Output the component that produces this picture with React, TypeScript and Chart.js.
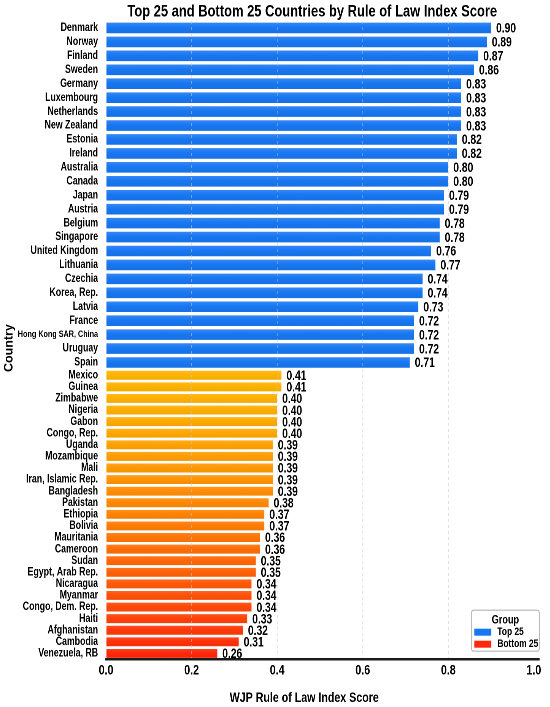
import React, { useEffect, useRef } from 'react';
import { Chart, registerables } from 'chart.js';

Chart.register(...registerables);

// Top 25 countries (highest score first)
const topCountries = [
  'Denmark', 'Norway', 'Finland', 'Sweden', 'Germany', 'Luxembourg', 'Netherlands',
  'New Zealand', 'Estonia', 'Ireland', 'Australia', 'Canada', 'Japan', 'Austria',
  'Belgium', 'Singapore', 'United Kingdom', 'Lithuania', 'Czechia', 'Korea, Rep.',
  'Latvia', 'France', 'Hong Kong SAR, China', 'Uruguay', 'Spain',
];
const topScores = [
  0.90, 0.89, 0.87, 0.86, 0.83, 0.83, 0.83, 0.83, 0.82, 0.82, 0.80, 0.80, 0.79,
  0.79, 0.78, 0.78, 0.76, 0.77, 0.74, 0.74, 0.73, 0.72, 0.72, 0.72, 0.71,
];

// Bottom 25 countries
const bottomCountries = [
  'Mexico', 'Guinea', 'Zimbabwe', 'Nigeria', 'Gabon', 'Congo, Rep.', 'Uganda',
  'Mozambique', 'Mali', 'Iran, Islamic Rep.', 'Bangladesh', 'Pakistan', 'Ethiopia',
  'Bolivia', 'Mauritania', 'Cameroon', 'Sudan', 'Egypt, Arab Rep.', 'Nicaragua',
  'Myanmar', 'Congo, Dem. Rep.', 'Haiti', 'Afghanistan', 'Cambodia', 'Venezuela, RB',
];
const bottomScores = [
  0.41, 0.41, 0.40, 0.40, 0.40, 0.40, 0.39, 0.39, 0.39, 0.39, 0.39, 0.38, 0.37,
  0.37, 0.36, 0.36, 0.35, 0.35, 0.34, 0.34, 0.34, 0.33, 0.32, 0.31, 0.26,
];

const xTickValues = [0, 0.2, 0.4, 0.6, 0.8, 1.0];

const TITLE = 'Top 25 and Bottom 25 Countries by Rule of Law Index Score';
const X_TITLE = 'WJP Rule of Law Index Score';
const Y_TITLE = 'Country';

const FONT = '"Liberation Sans", Arial, Helvetica, sans-serif';
const BLUE = [24, 119, 242];

// the figure is drawn wide and squeezed horizontally (narrow-looking text)
const SQUEEZE = 0.76;
const W = 550;
const H = 707;
const hx = (v: number) => v / SQUEEZE;

const mix = (c: number[], t: number[], a: number) =>
  `rgb(${c.map((v, i) => Math.round(v + (t[i] - v) * a)).join(',')})`;

// yellow-orange to red ramp for the bottom group
const warmColor = (i: number, n: number) => {
  const t = i / (n - 1);
  return [255, Math.round(180 - 140 * Math.pow(t, 1.5)), Math.round(10 * t)];
};

const barFill = (axisId: string, colorAt: (i: number) => number[]) => (c: any) => {
  const base = colorAt(c.dataIndex ?? 0);
  const scale = c.chart.scales[axisId];
  if (c.type !== 'data' || !scale) return mix(base, base, 0);
  const yc = scale.getPixelForValue(c.dataIndex);
  if (!Number.isFinite(yc)) return mix(base, base, 0);
  const g = c.chart.ctx.createLinearGradient(0, yc - 6, 0, yc + 6);
  g.addColorStop(0, mix(base, [255, 255, 255], 0.15));
  g.addColorStop(0.45, mix(base, base, 0));
  g.addColorStop(1, mix(base, [0, 0, 0], 0.06));
  return g;
};

const valueLabels = {
  id: 'valueLabels',
  afterDraw(chart: any) {
    const { ctx } = chart;
    ctx.save();
    ctx.font = `bold 13.5px ${FONT}`;
    ctx.fillStyle = '#000';
    ctx.textBaseline = 'middle';
    chart.data.datasets.forEach((ds: any, i: number) => {
      chart.getDatasetMeta(i).data.forEach((bar: any, j: number) => {
        ctx.fillText(Number(ds.data[j]).toFixed(2), bar.x + hx(5), bar.y + 1);
      });
    });
    ctx.restore();
  },
};

const extras = {
  id: 'extras',
  afterDraw(chart: any) {
    const { ctx, chartArea } = chart;
    const { right, bottom, top } = chartArea;

    ctx.save();
    ctx.fillStyle = '#000';
    ctx.textAlign = 'center';
    ctx.textBaseline = 'middle';

    // chart title and x axis title
    ctx.font = `bold 17px ${FONT}`;
    ctx.fillText(TITLE, hx(312), 12);
    ctx.font = `bold 14px ${FONT}`;
    ctx.fillText(X_TITLE, hx(304), 698);

    // y axis title (not squeezed, it is rotated)
    ctx.translate(hx(9), (top + bottom) / 2 + 8);
    ctx.scale(1 / SQUEEZE, 1);
    ctx.rotate(-Math.PI / 2);
    ctx.font = `bold 12.5px ${FONT}`;
    ctx.fillText(Y_TITLE, 0, 0);
    ctx.restore();

    // legend box
    ctx.save();
    const w = hx(68), h = 41;
    const x = right - w, y = bottom - 8 - h;
    ctx.beginPath();
    ctx.roundRect(x, y, w, h, 3);
    ctx.fillStyle = 'rgba(255,255,255,0.9)';
    ctx.fill();
    ctx.strokeStyle = '#b5b5b5';
    ctx.lineWidth = 1.2;
    ctx.stroke();

    ctx.fillStyle = '#000';
    ctx.textAlign = 'center';
    ctx.textBaseline = 'middle';
    ctx.font = `bold 12px ${FONT}`;
    ctx.fillText('Group', x + w / 2, y + 10);

    const items = [
      { label: 'Top 25', color: mix(BLUE, BLUE, 0) },
      { label: 'Bottom 25', color: 'rgb(255,40,10)' },
    ];
    ctx.textAlign = 'left';
    ctx.font = `bold 11px ${FONT}`;
    items.forEach((it, k) => {
      const yy = y + 22 + k * 12;
      ctx.fillStyle = it.color;
      ctx.fillRect(x + hx(3), yy - 3.5, hx(17), 7);
      ctx.fillStyle = '#000';
      ctx.fillText(it.label, x + hx(26), yy);
    });
    ctx.restore();
  },
};

const App: React.FC = () => {
  const canvasRef = useRef<HTMLCanvasElement | null>(null);

  useEffect(() => {
    if (!canvasRef.current) return;

    const rowAxis = (labels: string[], weight: number, stackWeight: number) => ({
      type: 'category' as const,
      labels,
      position: 'left' as const,
      stack: 'rows',
      stackWeight,
      weight,
      offset: true,
      grid: { display: false, drawTicks: false },
      border: { display: false },
      ticks: {
        autoSkip: false,
        padding: hx(8),
        color: '#000',
        font: (c: any) => ({
          family: FONT,
          size: c.tick && c.tick.label.length > 18 ? 9.5 : 11.5,
          weight: 'bold',
        }),
      },
      afterFit: (s: any) => {
        s.width = hx(106);
      },
    });

    const chart = new Chart(canvasRef.current, {
      type: 'bar',
      data: {
        datasets: [
          {
            label: 'Top 25',
            data: topScores,
            yAxisID: 'yTop',
            xAxisID: 'x',
            grouped: false,
            backgroundColor: barFill('yTop', () => BLUE),
            categoryPercentage: 1,
            barPercentage: 0.76,
          },
          {
            label: 'Bottom 25',
            data: bottomScores,
            yAxisID: 'yBot',
            xAxisID: 'x',
            grouped: false,
            backgroundColor: barFill('yBot', (i) => warmColor(i, bottomScores.length)),
            categoryPercentage: 1,
            barPercentage: 0.77,
          },
        ],
      },
      options: {
        indexAxis: 'y',
        animation: false,
        responsive: true,
        maintainAspectRatio: false,
        devicePixelRatio: 2,
        layout: { padding: { top: 21, right: hx(11), bottom: 25 } },
        plugins: {
          legend: { display: false },
          tooltip: { enabled: false },
          title: { display: false },
        },
        scales: {
          x: {
            type: 'linear',
            min: 0,
            max: 1.013,
            afterBuildTicks: (s: any) => {
              s.ticks = xTickValues.map((v) => ({ value: v }));
            },
            ticks: {
              padding: 3,
              color: '#000',
              font: { family: FONT, size: 14, weight: 'bold' },
              callback: (v: any) => Number(v).toFixed(1),
            },
            grid: {
              z: 1,
              drawTicks: false,
              lineWidth: 1,
              color: (c: any) =>
                c.tick && (c.tick.value === 0 || c.tick.value === 1)
                  ? 'rgba(0,0,0,0)'
                  : 'rgba(200,200,200,0.55)',
            },
            border: { display: true, z: 2, color: '#1a1a1a', width: 2.5, dash: [3, 3] },
          },
          yTop: rowAxis(topCountries, 2, 350),
          yBot: rowAxis(bottomCountries, 1, 291),
        },
      } as any,
      plugins: [valueLabels, extras],
    });

    return () => chart.destroy();
  }, []);

  return (
    <div style={{ position: 'absolute', left: 0, top: 0, width: W, height: H, overflow: 'hidden' }}>
      <div
        style={{
          width: hx(W),
          height: H,
          transform: `scaleX(${SQUEEZE})`,
          transformOrigin: '0 0',
        }}
      >
        <canvas ref={canvasRef} />
      </div>
    </div>
  );
};

export default App;
